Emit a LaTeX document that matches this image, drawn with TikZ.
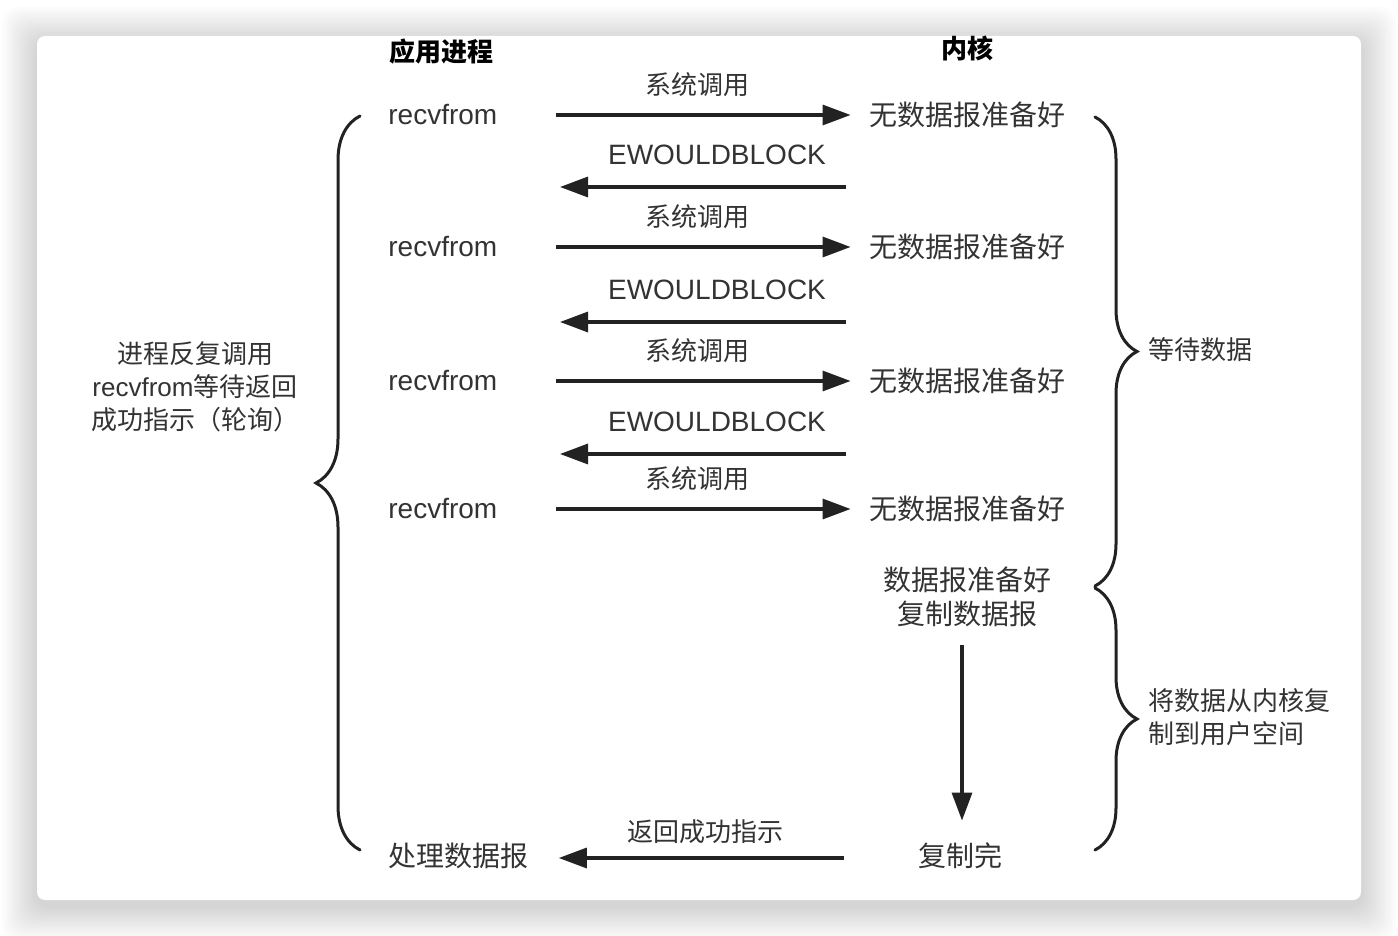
\documentclass[tikz,border=0pt]{standalone}
\usepackage{fontspec}
\setmainfont{Liberation Sans}
\newfontfamily\cjk{Noto Sans CJK SC}
\usetikzlibrary{arrows.meta, positioning, decorations.pathreplacing}
\definecolor{inkgray}{HTML}{333333}
\definecolor{linegray}{HTML}{222222}

\begin{document}
\begin{tikzpicture}[x=0.5pt, y=-0.5pt,
  latin/.style={inner sep=0pt, text=inkgray, font=\fontsize{14pt}{17pt}\selectfont},
  han/.style={inner sep=0pt, text=inkgray, font=\cjk\fontsize{14pt}{17pt}\selectfont},
  hanlbl/.style={inner sep=0pt, text=inkgray, font=\cjk\fontsize{13pt}{16.5pt}\selectfont},
  head/.style={inner sep=0pt, text=black, font=\cjk\bfseries\fontsize{13pt}{16pt}\selectfont},
  arr/.style={draw=linegray, line width=1.6pt, -{Triangle[length=14pt,width=10pt]}},
  bracket/.style={draw=linegray, line width=1.5pt, line cap=round, decorate,
    decoration={brace, amplitude=#1}},
]
\useasboundingbox (0,0) rectangle (1398,936);
\fill[white] (0,0) rectangle (1398,936);
% card with soft shadow
\foreach \k in {1,...,14}
  \fill[black, opacity=0.012, rounded corners=8pt]
    ({37-\k*2.5},{42-\k*2.5}) rectangle ({1361+\k*2.5},{906+\k*2.5});
\fill[white, rounded corners=4pt] (37,36) rectangle (1361,900);

% column heads
\node[head] (app) at (441,52) {应用进程};
\node[head] (kern) at (967,48) {内核};

% polling rows
\foreach \i/\y in {1/115,2/247,3/381,4/509} {
  \node[latin, anchor=west] (rf\i) at (388,\y) {recvfrom};
  \node[han] (nd\i) at (967,\y) {无数据报准备好};
  \node[hanlbl] (call\i) at (697,{\y-30}) {系统调用};
  \draw[arr, shorten <=29pt, shorten >=9pt] (rf\i) -- (nd\i);
}
\foreach \i/\y in {1/187,2/322,3/454} {
  \node[latin] (ew\i) at (717,{\y-32}) {EWOULDBLOCK};
  \coordinate (ewr\i) at (846,\y);
  \coordinate (ewl\i) at (560,\y);
  \draw[arr] (ewr\i) -- (ewl\i);
}

% copy phase
\node[han, align=center] (cp) at (967,597) {数据报准备好\\复制数据报};
\node[han] (done) at (960,856) {复制完};
\node[han, anchor=west] (proc) at (388,856) {处理数据报};
\node[hanlbl] (ret) at (705,832) {返回成功指示};
\draw[arr, shorten <=9pt, shorten >=11pt] ([xshift=1pt]cp.south -| done.north) -- ([xshift=1pt]done.north);
\draw[arr, shorten <=37pt, shorten >=15pt] ([yshift=-1pt]done.west) -- ([yshift=-1pt]proc.east);

% braces and their notes
\coordinate (lbB) at (360,850);
\coordinate (lbT) at (360,116);
\draw[bracket=22pt] (lbB) -- (lbT);
\node[hanlbl, align=center] (poll) at (195,387) {进程反复调用\\{\rmfamily recvfrom}等待返回\\成功指示（轮询）};

\coordinate (rb1T) at (1095,117);
\coordinate (rb1B) at (1095,586);
\draw[bracket=21pt] (rb1T) -- (rb1B);
\node[hanlbl, anchor=west] (wait) at (1148,350) {等待数据};

\coordinate (rb2T) at (1095,588);
\coordinate (rb2B) at (1095,850);
\draw[bracket=21pt] (rb2T) -- (rb2B);
\node[hanlbl, anchor=west, align=left] (copy) at (1148,717) {将数据从内核复\\制到用户空间};
\end{tikzpicture}
\end{document}
